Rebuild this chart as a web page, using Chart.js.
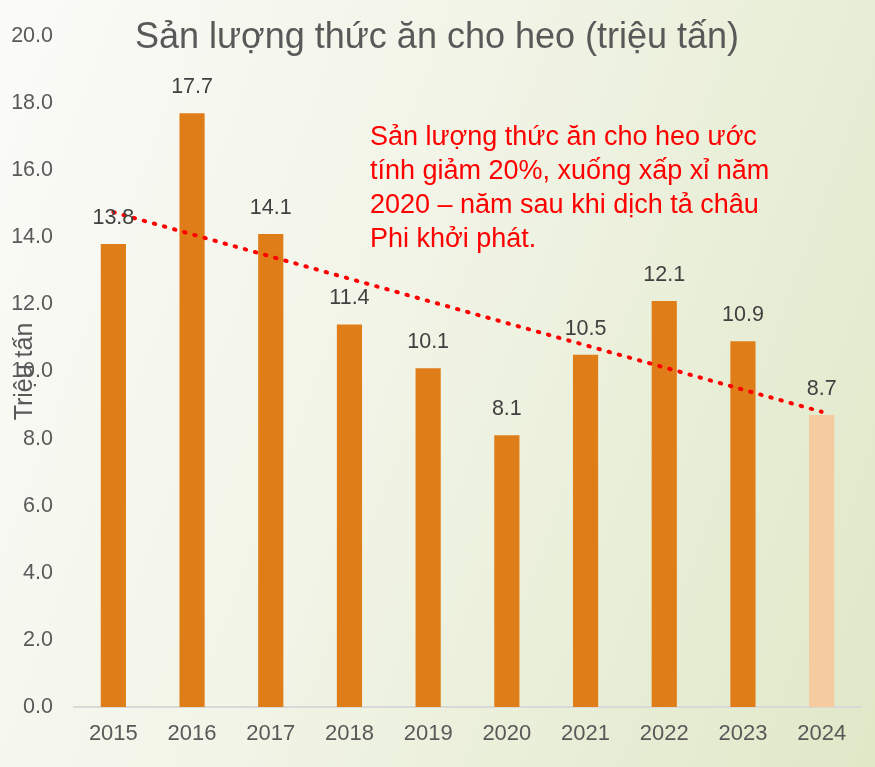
<!DOCTYPE html>
<html>
<head>
<meta charset="utf-8">
<script src="https://cdn.jsdelivr.net/npm/chart.js@4"></script>
<style>
  html, body { margin: 0; padding: 0; }
  body {
    width: 875px; height: 767px; overflow: hidden;
    background: linear-gradient(110deg, #fbfbf8 0%, #f1f4e6 45%, #e0e8c8 100%);
  }
  #wrap { position: relative; width: 875px; height: 767px; }
</style>
</head>
<body>
<div id="wrap"><canvas id="chart" width="875" height="767"></canvas></div>
<script>
// ── Data ─────────────────────────────────────────────────────────────
const YEARS = ['2015', '2016', '2017', '2018', '2019', '2020', '2021', '2022', '2023', '2024'];
const FEED_OUTPUT = [13.8, 17.7, 14.1, 11.4, 10.1, 8.1, 10.5, 12.1, 10.9, 8.7];
// trend line: start and end only
const TREND = [14.75, null, null, null, null, null, null, null, null, 8.8];
const Y_TICKS = { min: 0, max: 20, step: 2 };

const TITLE = 'Sản lượng thức ăn cho heo (triệu tấn)';
const Y_TITLE = 'Triệu tấn';
const NOTE_LINES = [
  'Sản lượng thức ăn cho heo ước',
  'tính giảm 20%, xuống xấp xỉ năm',
  '2020 – năm sau khi dịch tả châu',
  'Phi khởi phát.',
];

const COLORS = {
  bar: '#df7e18',
  barEstimate: '#f5cba0',
  text: '#595959',
  label: '#404040',
  axis: '#d9d9d9',
  red: '#ff0000',
};
const FONT = "'Liberation Sans', Arial, sans-serif";

// value labels above bars, title, rotated y title and the red note
const extrasPlugin = {
  id: 'extras',
  afterDatasetsDraw(chart) {
    const ctx = chart.ctx;
    const area = chart.chartArea;
    ctx.save();

    // value labels
    const meta = chart.getDatasetMeta(1);
    ctx.font = `21.5px ${FONT}`;
    ctx.fillStyle = COLORS.label;
    ctx.textAlign = 'center';
    ctx.textBaseline = 'middle';
    meta.data.forEach((bar, i) => {
      ctx.fillText(FEED_OUTPUT[i].toFixed(1), bar.x, bar.y - 26);
    });

    // title
    ctx.font = `36px ${FONT}`;
    ctx.fillStyle = COLORS.text;
    ctx.textBaseline = 'alphabetic';
    ctx.fillText(TITLE, 437, 48);

    // y axis title (sits over the tick labels, as in the source)
    ctx.save();
    ctx.translate(25, (area.top + area.bottom) / 2);
    ctx.rotate(-Math.PI / 2);
    ctx.font = `25px ${FONT}`;
    ctx.textBaseline = 'middle';
    ctx.fillText(Y_TITLE, 0, 0);
    ctx.restore();

    // note
    ctx.font = `27px ${FONT}`;
    ctx.fillStyle = COLORS.red;
    ctx.textAlign = 'left';
    ctx.textBaseline = 'alphabetic';
    NOTE_LINES.forEach((line, i) => ctx.fillText(line, 370, 145 + i * 34));

    ctx.restore();
  },
};

new Chart(document.getElementById('chart'), {
  type: 'bar',
  data: {
    labels: YEARS,
    datasets: [
      {
        type: 'line',
        label: 'Xu hướng',
        data: TREND,
        spanGaps: true,
        borderColor: COLORS.red,
        borderWidth: 4,
        borderDash: [1.5, 9],
        borderCapStyle: 'round',
        pointRadius: 0,
        fill: false,
        order: 0,
      },
      {
        label: 'Sản lượng',
        data: FEED_OUTPUT,
        backgroundColor: FEED_OUTPUT.map((_, i) => (i === FEED_OUTPUT.length - 1 ? COLORS.barEstimate : COLORS.bar)),
        barPercentage: 0.32,
        categoryPercentage: 1,
        order: 1,
      },
    ],
  },
  options: {
    responsive: false,
    animation: false,
    layout: { padding: { top: 36, right: 14, bottom: 0, left: 0 } },
    plugins: {
      legend: { display: false },
      tooltip: { enabled: false },
    },
    scales: {
      x: {
        grid: { display: false, drawTicks: false },
        border: { color: COLORS.axis, width: 2 },
        ticks: { color: COLORS.text, font: { family: FONT, size: 22 }, padding: 14, maxRotation: 0 },
        afterFit: (s) => { s.height = 60; },
      },
      y: {
        min: Y_TICKS.min,
        max: Y_TICKS.max,
        grid: { display: false, drawTicks: false },
        border: { display: false },
        ticks: {
          stepSize: Y_TICKS.step,
          color: COLORS.text,
          font: { family: FONT, size: 21.5 },
          padding: 21,
          callback: (v) => v.toFixed(1),
        },
        afterFit: (s) => { s.width = 74; },
      },
    },
  },
  plugins: [extrasPlugin],
});
</script>
</body>
</html>
